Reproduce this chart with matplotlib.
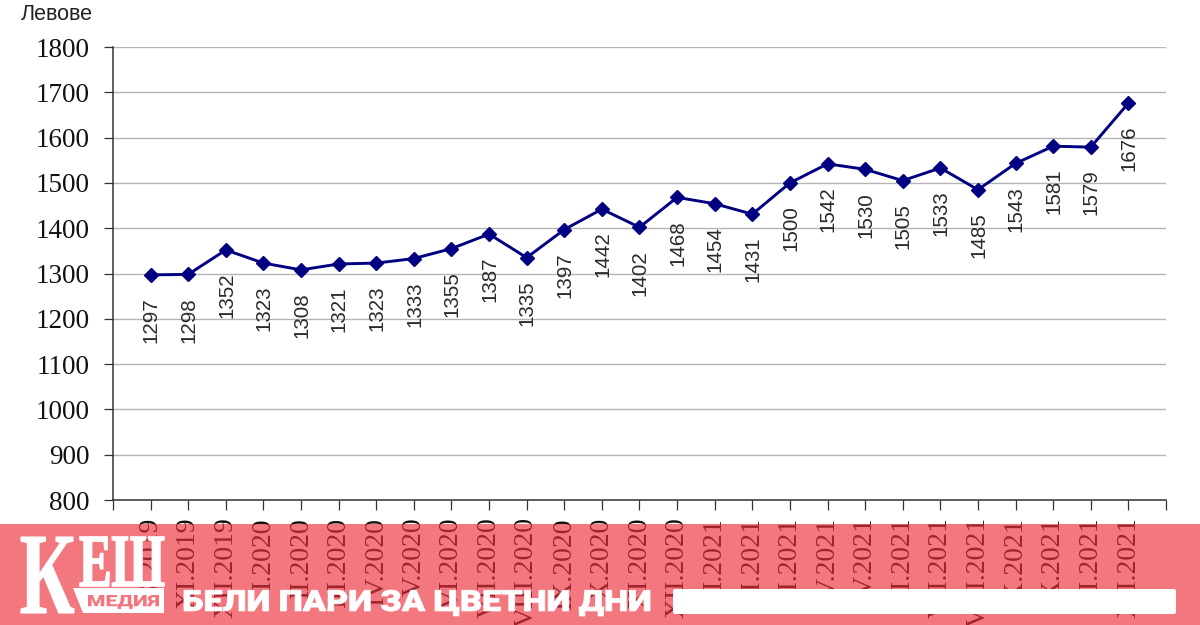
# -*- coding: utf-8 -*-
import matplotlib
matplotlib.use('Agg')
import matplotlib.pyplot as plt
from matplotlib.patches import Rectangle, FancyBboxPatch, PathPatch, Polygon
from matplotlib.textpath import TextPath
from matplotlib.font_manager import FontProperties
from matplotlib.transforms import Affine2D

W, H = 1200, 625

# ── data ──────────────────────────────────────────────
MONTHS = ['X.2019', 'XI.2019', 'XII.2019',
          'I.2020', 'II.2020', 'III.2020', 'IV.2020', 'V.2020', 'VI.2020',
          'VII.2020', 'VIII.2020', 'IX.2020', 'X.2020', 'XI.2020', 'XII.2020',
          'I.2021', 'II.2021', 'III.2021', 'IV.2021', 'V.2021', 'VI.2021',
          'VII.2021', 'VIII.2021', 'IX.2021', 'X.2021', 'XI.2021', 'XII.2021']
WAGES = [1297, 1298, 1352, 1323, 1308, 1321, 1323, 1333, 1355, 1387, 1335, 1397,
         1442, 1402, 1468, 1454, 1431, 1500, 1542, 1530, 1505, 1533, 1485, 1543,
         1581, 1579, 1676]
Y_TICKS = list(range(800, 1801, 100))

NAVY = '#000080'
BANNER = '#ee2f3a'
BANNER_FLAT = '#f4757d'

# пиксели на изображението -> координати на фигурата (y отгоре надолу)
PX = Affine2D().scale(1 / W, -1 / H).translate(0, 1)


def stretched_text(fig, s, x, y, w, h, family, weight='bold', color='white',
                   edge=0.0, zorder=7):
    """контур на текст, вписан в правоъгълник в пиксели"""
    tp = TextPath((0, 0), s, size=100, prop=FontProperties(family=family, weight=weight))
    bb = tp.get_extents()
    tr = (Affine2D().translate(-bb.x0, -bb.y0)
          .scale(w / bb.width, h / bb.height)
          .translate(x, H - y - h))
    fig.add_artist(PathPatch(tp, transform=tr, facecolor=color, edgecolor=color,
                             lw=edge, zorder=zorder))


fig = plt.figure(figsize=(W / 100, H / 100), dpi=100)
ax = fig.add_axes([113 / W, 1 - 500 / H, (1166 - 113) / W, (500 - 47) / H])

# ── chart ─────────────────────────────────────────────
xs = list(range(1, len(WAGES) + 1))
ax.plot(xs, WAGES, color=NAVY, lw=2.1, marker='D', ms=7.6, mfc=NAVY, mec=NAVY, zorder=3)
for x, v in zip(xs, WAGES):
    ax.annotate(str(v), (x, v), xytext=(0.5, -16.2), textcoords='offset points',
                rotation=90, ha='center', va='top', fontsize=14.8,
                family='Liberation Sans', color='#2a2a2a')

ax.set_xlim(0, len(WAGES) + 1)
ax.set_ylim(800, 1800)
ax.set_yticks(Y_TICKS)
ax.set_xticks([0] + xs + [len(WAGES) + 1])
ax.set_xticklabels([''] + MONTHS + [''], rotation=90, family='Liberation Serif',
                   fontsize=20, color='#111111')
ax.set_yticklabels([str(t) for t in Y_TICKS], family='Liberation Serif',
                   fontsize=19.5, color='#111111')
ax.tick_params(axis='x', length=7.5, width=0.9, color='#333333', pad=5)
ax.tick_params(axis='y', length=6.5, width=0.9, color='#333333', pad=10.5)
ax.grid(axis='y', color='#b4b4b4', lw=1)
ax.set_axisbelow(True)
for side in ('top', 'right'):
    ax.spines[side].set_visible(False)
for side in ('left', 'bottom'):
    ax.spines[side].set_color('#333333')
    ax.spines[side].set_linewidth(1.1)

fig.text(21 / W, 1 - 15 / H, 'Левове', family='Liberation Sans', fontsize=15.5,
         color='#222222', va='center', ha='left')

# ── banner overlay ────────────────────────────────────
fig.add_artist(Rectangle((0, 0), 1, (H - 524) / H, transform=fig.transFigure,
                         facecolor=BANNER, alpha=0.65, edgecolor='none', zorder=5))

stretched_text(fig, 'К', 21, 537, 53, 76, 'Liberation Serif', edge=0.8)
stretched_text(fig, 'ЕШ', 80, 537, 84, 49, 'Liberation Serif', edge=1.2)
fig.add_artist(Polygon([(73, 588), (164, 588), (164, 613), (83, 613)],
                       transform=PX + fig.transFigure,
                       facecolor='white', edgecolor='none', zorder=7))
stretched_text(fig, 'МЕДИЯ', 88, 595, 71, 14, 'Roboto', weight='black',
               color=BANNER_FLAT, zorder=8)
stretched_text(fig, 'БЕЛИ ПАРИ ЗА ЦВЕТНИ ДНИ', 184, 590, 466, 26, 'Roboto',
               weight='black', edge=0.6)

fig.add_artist(FancyBboxPatch((675, 591), 499, 21, boxstyle='round,pad=2,rounding_size=2',
                              transform=PX + fig.transFigure,
                              facecolor='white', edgecolor='none', zorder=7))

fig.savefig('out.png', dpi=100)
plt.close(fig)
